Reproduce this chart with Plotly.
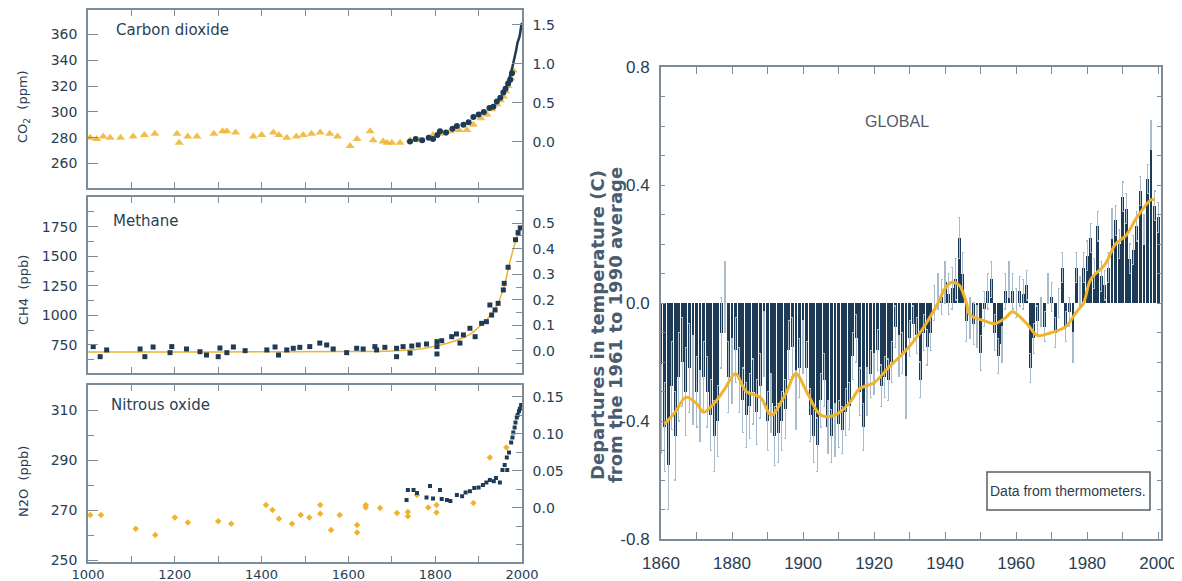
import plotly.graph_objects as go

# ---------------- data ----------------
co2_ice_year = [1005, 1020, 1035, 1051, 1075, 1104, 1130, 1154, 1205, 1210, 1230, 1251, 1290, 1310, 1320,
                1340, 1381, 1400, 1427, 1440, 1458, 1480, 1496, 1515, 1535, 1557, 1575, 1604, 1620, 1650,
                1657, 1680, 1689, 1700, 1719, 1742, 1765, 1795, 1818, 1834, 1855, 1873, 1888, 1905, 1919,
                1930, 1942, 1950, 1957, 1962, 1968, 1974, 1980]
co2_ice_ppm = [280, 279, 281, 280, 280, 281, 282, 283, 283, 276, 281, 281, 283, 285, 285,
               284, 281, 282, 284, 282, 280, 281, 282, 283, 284, 283, 281, 273.5, 279, 285,
               278, 277, 276, 276, 276, 278, 278, 282, 283, 285, 286, 286, 290, 295, 298,
               302, 306, 309, 312, 316, 320, 326, 332]
co2_ld_year = [1742, 1755, 1770, 1785, 1795, 1805, 1811, 1825, 1840, 1850, 1865, 1877, 1888, 1900, 1912,
               1925, 1934, 1942, 1950, 1957, 1962, 1968, 1973, 1977]
co2_ld_ppm = [277, 279, 278, 280, 279, 282, 285, 284, 287, 289, 290, 292, 296, 298, 300,
              303, 304, 308, 311, 315, 318, 322, 325, 330]
co2_ml_year = [1958, 1962, 1966, 1970, 1974, 1978, 1982, 1986, 1990, 1994, 1998, 2000]
co2_ml_ppm = [315, 318, 321, 325, 330, 335, 341, 347, 354, 358, 366, 369]

ch4_year = [1012, 1028, 1043, 1120, 1131, 1150, 1189, 1193, 1227, 1258, 1273, 1300, 1304, 1320, 1335,
            1362, 1412, 1431, 1439, 1458, 1473, 1488, 1511, 1534, 1550, 1565, 1596, 1619, 1634, 1661,
            1665, 1684, 1711, 1711, 1726, 1742, 1746, 1761, 1780, 1804, 1804, 1804, 1815, 1838, 1849,
            1857, 1865, 1880, 1892, 1907, 1918, 1926, 1930, 1938, 1945, 1957, 1959, 1968, 1985, 1991, 1996]
ch4_ppb = [736, 651, 708, 716, 651, 733, 685, 736, 716, 693, 665, 651, 724, 685, 733,
           702, 708, 733, 665, 708, 722, 730, 736, 766, 750, 716, 685, 722, 716, 736,
           708, 730, 722, 651, 736, 682, 741, 750, 758, 778, 736, 674, 786, 820, 843,
           766, 835, 891, 820, 933, 947, 1088, 1003, 1046, 1102, 1215, 1271, 1407, 1640, 1700, 1740]
ch4_fit_year = [1000, 1200, 1400, 1600, 1700, 1750, 1800, 1850, 1880, 1900, 1920, 1940, 1950, 1960,
                1970, 1980, 1990, 2000]
ch4_fit_ppb = [690, 690, 692, 695, 700, 710, 740, 790, 840, 900, 970, 1070, 1150, 1260,
               1420, 1560, 1680, 1755]

n2o_ice_year = [1005, 1030, 1110, 1155, 1200, 1230, 1300, 1330, 1410, 1425, 1440, 1470, 1490, 1510, 1535,
                1535, 1560, 1580, 1620, 1620, 1640, 1640, 1673, 1712, 1737, 1737, 1758, 1784, 1803, 1803,
                1888, 1926, 1964]
n2o_ice_ppb = [268, 268, 262.5, 260, 267, 265, 265.5, 264.5, 272, 270, 266.5, 264.5, 268, 267, 272,
               268.5, 262, 268, 264, 261, 271, 272, 270.8, 268.8, 269.2, 267.5, 276, 271, 269, 272,
               272.8, 291, 295]
n2o_fd_year = [1734, 1737, 1750, 1758, 1780, 1788, 1795, 1811, 1815, 1827, 1835, 1850, 1862, 1870, 1880,
               1890, 1900, 1910, 1918, 1926, 1935, 1940, 1949, 1955, 1960, 1965, 1966, 1970, 1975, 1978,
               1980, 1983, 1985, 1988, 1990, 1993, 1995, 1998]
n2o_fd_ppb = [274, 278, 278, 276.8, 275, 279.6, 274.6, 278, 274.4, 274, 273.6, 276, 275.5, 277, 277.5,
              278.8, 279, 280, 281, 282, 281.5, 282.8, 281, 286, 288, 291, 286, 293, 297, 299,
              301, 303, 305, 307, 308, 309.5, 310.5, 312]

t_year = list(range(1860, 2001))
t_anom = [-0.36, -0.42, -0.55, -0.28, -0.45, -0.25, -0.20, -0.30, -0.22, -0.26,
          -0.30, -0.35, -0.25, -0.30, -0.38, -0.45, -0.40, -0.10, 0.02, -0.25,
          -0.23, -0.16, -0.26, -0.33, -0.38, -0.35, -0.30, -0.37, -0.28, -0.14,
          -0.40, -0.34, -0.45, -0.44, -0.40, -0.36, -0.16, -0.15, -0.33, -0.22,
          -0.15, -0.22, -0.38, -0.45, -0.48, -0.33, -0.26, -0.42, -0.45, -0.43,
          -0.41, -0.43, -0.37, -0.35, -0.18, -0.12, -0.30, -0.42, -0.30, -0.24,
          -0.24, -0.16, -0.28, -0.25, -0.26, -0.20, -0.08, -0.18, -0.17, -0.32,
          -0.12, -0.07, -0.11, -0.26, -0.10, -0.15, -0.10, 0.00, 0.04, 0.02,
          0.07, 0.03, 0.05, 0.08, 0.22, 0.10, -0.06, -0.05, -0.07, -0.08,
          -0.17, -0.02, 0.04, 0.08, -0.10, -0.18, -0.14, 0.04, 0.08, 0.04,
          0.00, 0.04, 0.03, 0.06, -0.22, -0.12, -0.06, -0.03, -0.08, 0.05,
          0.02, -0.10, 0.00, 0.12, -0.08, -0.03, -0.15, 0.12, 0.04, 0.12,
          0.16, 0.22, 0.10, 0.26, 0.09, 0.06, 0.12, 0.27, 0.28, 0.20,
          0.36, 0.32, 0.15, 0.18, 0.26, 0.38, 0.25, 0.42, 0.57, 0.33,
          0.29]
t_err_decade = [0.15, 0.12, 0.11, 0.10, 0.09, 0.08, 0.07, 0.06, 0.07, 0.06, 0.05, 0.05, 0.05, 0.05, 0.05]
t_smooth_year = [1861, 1864, 1867, 1870, 1872, 1875, 1878, 1881, 1884, 1888, 1891, 1895, 1898, 1901, 1905,
                 1909, 1913, 1916, 1920, 1924, 1929, 1933, 1938, 1940, 1942, 1944, 1946, 1947, 1951, 1954,
                 1957, 1959, 1963, 1966, 1970, 1974, 1977, 1979, 1981, 1985, 1988, 1991, 1994, 1998, 1999]
t_smooth = [-0.41, -0.37, -0.32, -0.34, -0.37, -0.34, -0.29, -0.24, -0.30, -0.32, -0.38, -0.31, -0.24, -0.30, -0.38,
            -0.38, -0.34, -0.29, -0.27, -0.22, -0.16, -0.10, 0.0, 0.05, 0.07, 0.06, 0.0, -0.04, -0.06, -0.07,
            -0.05, -0.03, -0.07, -0.11, -0.10, -0.08, -0.03, 0.0, 0.08, 0.13, 0.20, 0.23, 0.29, 0.35, 0.35]

# radiative forcing scale ticks (right axes of the left panels)
co2_rf_ticks = [0.0, 0.5, 1.0, 1.5]
co2_rf_text = ['0.0', '0.5', '1.0', '1.5']
ch4_rf_ticks = [0.0, 0.1, 0.2, 0.3, 0.4, 0.5]
ch4_rf_text = ['0.0', '0.1', '0.2', '0.3', '0.4', '0.5']
n2o_rf_ticks = [0.0, 0.05, 0.10, 0.15]
n2o_rf_text = ['0.0', '0.05', '0.10', '0.15']

# ---------------- styling ----------------
OFF = 8                      # page body margin in the browser
SW, SH = 1182, 581           # screen size
W, H = SW - OFF, SH - OFF    # figure size so the page fits the window
NAVY = '#1d3a56'
ORANGE = '#f0b32c'
LIGHT = '#a9bccb'
AXIS = '#7d8c99'
TXT = '#2a3d52'
LFONT = dict(family='DejaVu Sans, Arial, sans-serif', size=14, color=TXT)
XFONT = dict(family='DejaVu Sans, Arial, sans-serif', size=13, color=TXT)
NARROW = 'Liberation Sans Narrow, Arial Narrow, Liberation Sans, sans-serif'
RFONT = dict(family=NARROW, size=17, color=TXT)


def px(x):
    return (x - OFF) / W


def py(y):
    return 1 - (y - OFF) / H


t_err = [t_err_decade[(yr - 1860) // 10] for yr in t_year]

fig = go.Figure()

# CO2 panel
fig.add_trace(go.Scatter(x=co2_ice_year, y=co2_ice_ppm, mode='markers', xaxis='x', yaxis='y',
                         marker=dict(symbol='triangle-up', size=8, color=ORANGE, opacity=0.85)))
fig.add_trace(go.Scatter(x=co2_ld_year, y=co2_ld_ppm, mode='markers', xaxis='x', yaxis='y',
                         marker=dict(symbol='circle', size=6, color=NAVY)))
fig.add_trace(go.Scatter(x=co2_ml_year, y=co2_ml_ppm, mode='lines', xaxis='x', yaxis='y',
                         line=dict(color=NAVY, width=2.5, shape='spline')))

# CH4 panel
fig.add_trace(go.Scatter(x=ch4_fit_year, y=ch4_fit_ppb, mode='lines', xaxis='x2', yaxis='y3',
                         line=dict(color=ORANGE, width=1.5, shape='spline')))
fig.add_trace(go.Scatter(x=ch4_year, y=ch4_ppb, mode='markers', xaxis='x2', yaxis='y3',
                         marker=dict(symbol='square', size=5, color=NAVY)))

# N2O panel
fig.add_trace(go.Scatter(x=n2o_ice_year, y=n2o_ice_ppb, mode='markers', xaxis='x3', yaxis='y5',
                         marker=dict(symbol='diamond', size=5, color=ORANGE)))
fig.add_trace(go.Scatter(x=n2o_fd_year, y=n2o_fd_ppb, mode='markers', xaxis='x3', yaxis='y5',
                         marker=dict(symbol='square', size=4, color=NAVY)))

# empty traces so the secondary (forcing) axes are linked to their subplots
for xa, ya in [('x', 'y2'), ('x2', 'y4'), ('x3', 'y6')]:
    fig.add_trace(go.Scatter(x=[], y=[], mode='markers', xaxis=xa, yaxis=ya, hoverinfo='skip'))

# Temperature panel
fig.add_trace(go.Bar(x=t_year, y=t_anom, width=0.8, xaxis='x4', yaxis='y7',
                     marker=dict(color=NAVY, line=dict(width=0)),
                     error_y=dict(type='data', array=t_err, color=LIGHT, thickness=1.2, width=1)))
fig.add_trace(go.Scatter(x=t_smooth_year, y=t_smooth, mode='lines', xaxis='x4', yaxis='y7',
                         line=dict(color=ORANGE, width=3, shape='spline')))

left_x = [px(88), px(522)]
dom1 = [py(188), py(10)]
dom2 = [py(373), py(197)]
dom3 = [py(562), py(385)]


def left_xaxis(anchor, labels):
    return dict(domain=left_x, anchor=anchor, range=[1000, 2000], tickvals=list(range(1000, 2001, 200)),
                ticks='inside', ticklen=6, tickcolor=AXIS, showline=True, linecolor=AXIS, linewidth=1.5,
                mirror='ticks', showgrid=False, zeroline=False, showticklabels=labels, automargin=False,
                tickfont=XFONT, ticklabelstandoff=0,
                minor=dict(dtick=100, tick0=1000, ticks='inside', ticklen=6, tickcolor=AXIS))


def left_yaxis(dom, anchor, rng, vals, minor=None):
    d = dict(domain=dom, anchor=anchor, range=rng, tickvals=vals, ticks='inside', ticklen=10,
             tickcolor=AXIS, showline=True, linecolor=AXIS, linewidth=1.5, mirror=False, automargin=False,
             showgrid=False, zeroline=False, tickfont=LFONT, ticklabelstandoff=6)
    if minor:
        d['minor'] = dict(dtick=minor, ticks='inside', ticklen=6, tickcolor=AXIS)
    return d


def right_yaxis(over, anchor, rng, vals, text, minor=None):
    d = dict(type='linear', overlaying=over, anchor=anchor, side='right', range=rng, tickmode='array',
             tickvals=vals, ticktext=text, showticklabels=True, automargin=False,
             ticks='inside', ticklen=10, tickcolor=AXIS, showline=True, linecolor=AXIS, linewidth=1.5,
             showgrid=False, zeroline=False, tickfont=LFONT, ticklabelstandoff=6)
    if minor:
        d['minor'] = dict(dtick=minor, ticks='inside', ticklen=6, tickcolor=AXIS)
    return d


fig.update_layout(
    width=W, height=H, margin=dict(l=0, r=0, t=0, b=0, pad=0, autoexpand=False),
    paper_bgcolor='white', plot_bgcolor='white', showlegend=False, bargap=0,
    xaxis=left_xaxis('y', False),
    xaxis2=left_xaxis('y3', False),
    xaxis3=left_xaxis('y5', True),
    yaxis=left_yaxis(dom1, 'x', [241, 379], list(range(260, 361, 20))),
    yaxis2=right_yaxis('y', 'x', [-0.59, 1.69], co2_rf_ticks, co2_rf_text),
    yaxis3=left_yaxis(dom2, 'x2', [513, 2001], [750, 1000, 1250, 1500, 1750], minor=125),
    yaxis4=right_yaxis('y3', 'x2', [-0.086, 0.6016], ch4_rf_ticks, ch4_rf_text, minor=0.05),
    yaxis5=left_yaxis(dom3, 'x3', [249.2, 320], [250, 270, 290, 310], minor=10),
    yaxis6=right_yaxis('y5', 'x3', [-0.073, 0.166], n2o_rf_ticks, n2o_rf_text, minor=0.025),
    xaxis4=dict(domain=[px(661), px(1161)], anchor='y7', range=[1860, 2000.8], automargin=False,
                tickvals=list(range(1860, 2001, 20)), ticks='inside', ticklen=7, tickcolor=AXIS,
                showline=True, linecolor=AXIS, linewidth=2, mirror='ticks', showgrid=False,
                zeroline=False, tickfont=RFONT, ticklabelstandoff=8,
                minor=dict(dtick=10, tick0=1860, ticks='inside', ticklen=7, tickcolor=AXIS)),
    yaxis7=dict(domain=[py(539), py(67)], anchor='x4', range=[-0.8, 0.8], automargin=False,
                tickvals=[-0.8, -0.4, 0.0, 0.4, 0.8], ticktext=['-0.8', '-0.4', '0.0', '0.4', '0.8'],
                ticks='inside', ticklen=4, tickcolor=AXIS, showline=True, linecolor=AXIS, linewidth=2,
                mirror='ticks', showgrid=False, zeroline=False, tickfont=RFONT, ticklabelstandoff=6,
                minor=dict(dtick=0.1, tick0=0, ticks='inside', ticklen=4, tickcolor=AXIS)),
)

ann_font = dict(family='DejaVu Sans, Arial, sans-serif', size=15, color='#2b3f55')
ytitle_font = dict(family='DejaVu Sans, Arial, sans-serif', size=13, color=TXT)
title_font = dict(family='DejaVu Sans, Arial, sans-serif', size=18, color='#4a5c6e')
annotations = [
    dict(text='Carbon dioxide', x=px(114), y=py(30), xanchor='left', font=ann_font),
    dict(text='Methane', x=px(111), y=py(221), xanchor='left', font=ann_font),
    dict(text='Nitrous oxide', x=px(109), y=py(405), xanchor='left', font=ann_font),
    dict(text='CO<sub>2</sub>  (ppm)', x=px(23), y=py(107), textangle=-90, font=ytitle_font),
    dict(text='CH4  (ppb)', x=px(23), y=py(290), textangle=-90, font=ytitle_font),
    dict(text='N2O  (ppb)', x=px(23), y=py(482), textangle=-90, font=ytitle_font),
    dict(text='<b>Departures in temperature (C)</b>', x=px(597), y=py(325), textangle=-90, font=title_font),
    dict(text='<b>from the 1961 to 1990 average</b>', x=px(615), y=py(325), textangle=-90, font=title_font),
    dict(text='GLOBAL', x=px(897), y=py(121), font=dict(family=NARROW, size=16, color='#505b66')),
    dict(text='Data from thermometers.', x=px(1068), y=py(491), font=dict(family=NARROW, size=14, color='#2d3d4d')),
]
for a in annotations:
    a.setdefault('xanchor', 'center')
    a.update(xref='paper', yref='paper', showarrow=False, yanchor='middle')
fig.update_layout(annotations=annotations)
fig.add_shape(type='rect', xref='paper', yref='paper', x0=px(987), x1=px(1150), y0=py(510), y1=py(472),
              line=dict(color='#555f69', width=1.5), fillcolor='rgba(0,0,0,0)')

fig.write_html('out.html')
